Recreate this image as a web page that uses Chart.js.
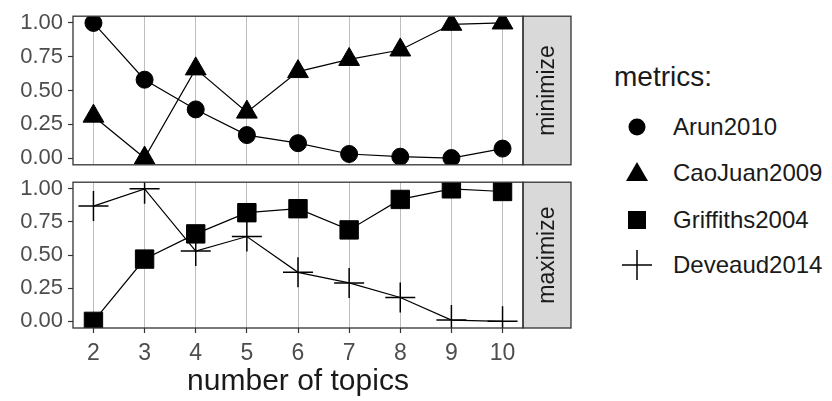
<!DOCTYPE html>
<html lang="en">
<head>
<meta charset="UTF-8">
<title>Metrics by number of topics</title>
<style>
  body { margin: 0; background: #fff; font-family: "Liberation Sans", Arial, sans-serif; }
  #wrap { position: relative; width: 832px; height: 401px; overflow: hidden; background: #fff; }
  canvas { position: absolute; left: 0; }
  #topPanel { top: -2px; }
  #bottomPanel { top: 164px; }
  .legend-title { position: absolute; left: 614px; top: 60px; font-size: 28px; color: #1a1a1a; line-height: 34px; }
  .legend-row { position: absolute; left: 620px; height: 34px; display: flex; align-items: center; }
  .legend-row svg { width: 34px; height: 34px; margin-right: 19px; }
  .legend-row span { font-size: 24px; color: #1a1a1a; }
</style>
</head>
<body>
<div id="wrap">
  <canvas id="topPanel" width="580" height="185"></canvas>
  <canvas id="bottomPanel" width="580" height="237"></canvas>
  <div class="legend-title">metrics:</div>
  <div class="legend-row" style="top:110px">
    <svg viewBox="0 0 34 34"><circle cx="17" cy="17" r="8.5" fill="#000"/></svg><span>Arun2010</span>
  </div>
  <div class="legend-row" style="top:156px">
    <svg viewBox="0 0 34 34"><polygon points="17,6 28,25 6,25" fill="#000"/></svg><span>CaoJuan2009</span>
  </div>
  <div class="legend-row" style="top:203px">
    <svg viewBox="0 0 34 34"><rect x="8" y="8" width="18" height="18" fill="#000"/></svg><span>Griffiths2004</span>
  </div>
  <div class="legend-row" style="top:248px">
    <svg viewBox="0 0 34 34"><path d="M2 17 H32 M17 2 V32" stroke="#000" stroke-width="1.5" fill="none"/></svg><span>Deveaud2014</span>
  </div>
</div>

<script src="https://cdn.jsdelivr.net/npm/chart.js"></script>
<script>
    const topics = [2, 3, 4, 5, 6, 7, 8, 9, 10];
    // minimize
    const arun2010 = [1.00, 0.58, 0.36, 0.17, 0.11, 0.03, 0.01, 0.00, 0.07];
    const caoJuan2009 = [0.31, 0.00, 0.66, 0.34, 0.64, 0.73, 0.80, 0.99, 1.00];
    // maximize
    const griffiths2004 = [0.00, 0.47, 0.66, 0.82, 0.85, 0.69, 0.92, 1.00, 0.98];
    const deveaud2014 = [0.87, 1.00, 0.53, 0.64, 0.37, 0.29, 0.18, 0.01, 0.00];
    const yTicks = [0, 0.25, 0.5, 0.75, 1];

    const fontFamily = '"Liberation Sans", Arial, sans-serif';
    Chart.defaults.font.family = fontFamily;
    Chart.defaults.animation = false;

    // panel border + grey strip on the right, like a ggplot facet
    const facetFrame = {
        id: 'facetFrame',
        afterDraw(chart, args, opts) {
            const {ctx, chartArea: a} = chart;
            const stripW = 48;
            ctx.save();
            ctx.fillStyle = '#d9d9d9';
            ctx.fillRect(a.right, a.top, stripW, a.bottom - a.top);
            ctx.strokeStyle = '#333333';
            ctx.lineWidth = 1.3;
            ctx.strokeRect(a.left, a.top, a.right - a.left, a.bottom - a.top);
            ctx.strokeRect(a.right, a.top, stripW, a.bottom - a.top);
            ctx.translate(a.right + stripW / 2, (a.top + a.bottom) / 2);
            ctx.rotate(-Math.PI / 2);
            ctx.fillStyle = '#1a1a1a';
            ctx.font = '23px ' + fontFamily;
            ctx.textAlign = 'center';
            ctx.textBaseline = 'middle';
            ctx.fillText(opts.label, 0, 1);
            ctx.restore();
        }
    };

    function series(label, values, style, radius) {
        return {
            label: label,
            data: topics.map((t, i) => ({x: t, y: values[i]})),
            borderColor: '#000',
            borderWidth: 1.2,
            pointStyle: style,
            pointRadius: radius,
            pointBackgroundColor: '#000',
            pointBorderColor: '#000',
            pointBorderWidth: style === 'cross' ? 1.5 : 1,
            tension: 0
        };
    }

    function makePanel(id, stripLabel, datasets, showX, padTop, xHeight) {
        new Chart(document.getElementById(id), {
            type: 'line',
            data: {datasets: datasets},
            plugins: [facetFrame],
            options: {
                responsive: false,
                layout: {padding: {top: padTop, right: 57, left: 0, bottom: 0}},
                plugins: {
                    legend: {display: false},
                    tooltip: {enabled: false},
                    facetFrame: {label: stripLabel}
                },
                scales: {
                    x: {
                        type: 'linear',
                        min: 1.6,
                        max: 10.4,
                        afterBuildTicks: s => { s.ticks = topics.map(v => ({value: v})); },
                        afterFit: s => { s.height = xHeight; },
                        border: {display: false},
                        grid: {color: '#bdbdbd', lineWidth: 1, drawTicks: showX, tickLength: 5, tickColor: '#333333', tickWidth: 1.2},
                        ticks: {display: showX, color: '#4d4d4d', font: {size: 23}, padding: 7, maxRotation: 0, autoSkip: false},
                        title: {display: showX, text: 'number of topics', color: '#1a1a1a', font: {size: 30}, padding: {top: 0, bottom: 1}}
                    },
                    y: {
                        type: 'linear',
                        min: -0.05,
                        max: 1.05,
                        afterBuildTicks: s => { s.ticks = yTicks.map(v => ({value: v})); },
                        afterFit: s => { s.width = 73; },
                        border: {display: false},
                        grid: {drawOnChartArea: false, drawTicks: true, tickLength: 5, tickColor: '#333333', tickWidth: 1.2},
                        ticks: {color: '#4d4d4d', font: {size: 22}, padding: 5, autoSkip: false, callback: v => v.toFixed(2)}
                    }
                }
            }
        });
    }

    makePanel('topPanel', 'minimize', [
        series('Arun2010', arun2010, 'circle', 8.5),
        series('CaoJuan2009', caoJuan2009, 'triangle', 12)
    ], false, 15, 14);

    makePanel('bottomPanel', 'maximize', [
        series('Griffiths2004', griffiths2004, 'rect', 13),
        series('Deveaud2014', deveaud2014, 'cross', 15)
    ], true, 14, 73);
</script>
</body>
</html>
